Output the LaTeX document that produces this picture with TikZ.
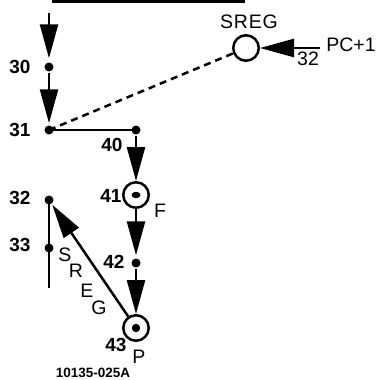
\documentclass[tikz,border=0pt]{standalone}
\usepackage{fontspec}
\setmainfont{Liberation Sans}
\usetikzlibrary{arrows.meta}
\begin{document}
\begin{tikzpicture}[x=1pt,y=-1pt,
  line width=2.5pt,
  lbl/.style={font=\fontsize{19}{19}\selectfont\bfseries, inner sep=0pt},
  txt/.style={font=\fontsize{19.5}{19.5}\selectfont, inner sep=0pt},
  dotnode/.style={circle, fill=black, inner sep=0pt, minimum size=9pt},
  ring/.style={circle, draw, line width=2.5pt, inner sep=0pt, minimum size=25.5pt},
  bigarrow/.style={-{Triangle[length=34pt,width=18pt]}},
  dashline/.style={dash pattern=on 7pt off 5pt}]
\useasboundingbox (0,0) rectangle (379,380);
% top rule
\coordinate (tl) at (52,1.5);
\coordinate (tr) at (245,1.5);
\draw (tl) -- (tr);
% left column
\coordinate (top) at (49,13);
\node[dotnode] (d30) at (49,67) {};
\node[dotnode] (d31) at (49,130) {};
\node[dotnode] (d40) at (136,130) {};
\node[ring] (c41) at (136,195) {};
\fill (c41.center) ellipse [x radius=4.5pt, y radius=3.2pt];
\node[dotnode] (d42) at (136,263) {};
\node[ring] (c43) at (136,328) {};
\fill (c43.center) circle [radius=4.2pt];
\node[dotnode] (d32) at (49,200) {};
\node[dotnode] (d33) at (49,248) {};
\coordinate (bot) at (49,288);
\node[ring] (sreg) at (246,48) {};
\coordinate (pc) at (320,48);
% connectors
\draw[bigarrow, shorten >=3pt] (top) -- (d30);
\draw[bigarrow, shorten >=1pt] (d30) -- (d31);
\draw (d31.center) -- (d40.center);
\draw[bigarrow] (d40) -- (c41);
\draw[bigarrow, shorten >=2pt] (c41) -- (d42);
\draw[bigarrow] (d42) -- (c43);
\draw[bigarrow] (c43) -- (d32);
\draw (d32.center) -- (bot);
\draw[bigarrow] (pc) -- (sreg);
\draw[dashline] (d31.center) -- (sreg);
% labels
\node[lbl] (l30) at (20,67) {30};
\node[lbl] (l31) at (20,130) {31};
\node[lbl] (l40) at (112,145) {40};
\node[lbl] (l41) at (111,196) {41};
\node[txt] (lF) at (160,211) {F};
\node[lbl] (l42) at (114,262) {42};
\node[lbl] (l32) at (20,198) {32};
\node[lbl] (l33) at (20,245) {33};
\node[lbl] (l43) at (116,345) {43};
\node[txt] (lP) at (139,357) {P};
\node[txt, font=\fontsize{19.5}{19.5}\selectfont\addfontfeature{LetterSpace=4}] (lsreg) at (249,22) {SREG};
\node[txt] (lpc) at (351,45) {PC+1};
\node[txt] (l32b) at (308,59) {32};
\node[txt] (lS) at (65,255) {S};
\node[txt] (lR) at (76,271) {R};
\node[txt] (lE) at (87,291) {E};
\node[txt] (lG) at (99,308) {G};
\node[font=\fontsize{13.5}{13.5}\selectfont\bfseries, inner sep=0pt] (fig) at (93,373) {10135-025A};
\end{tikzpicture}
\end{document}
